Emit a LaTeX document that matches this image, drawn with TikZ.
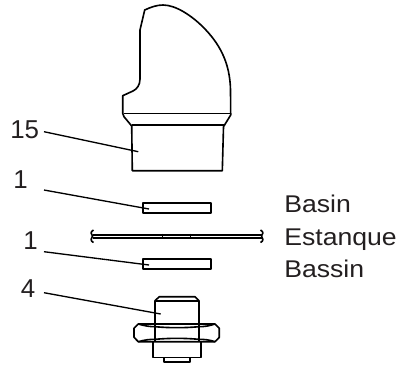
\documentclass[tikz,border=0pt]{standalone}
\usepackage{fontspec}
\setmainfont{Liberation Sans}
\definecolor{labelgrey}{HTML}{231F20}
\tikzset{
    part/.style={line width=1.15pt, line join=round},
    leader/.style={line width=0.95pt},
    partnum/.style={anchor=base west, inner sep=0pt, text=labelgrey, font=\fontsize{18.4pt}{18.4pt}\selectfont},
    basinname/.style={anchor=base west, inner sep=0pt, text=labelgrey, xscale=1.1, transform shape, font=\fontsize{17.2pt}{17.2pt}\selectfont}
}
\begin{document}
\begin{tikzpicture}[x=0.025cm, y=-0.025cm]
    \useasboundingbox (0,0) rectangle (398,364);

    % Drawing handle
    \draw [part] (144.7,10) .. controls (151,7) and (157,5) .. (163,5)
        .. controls (176,5) and (192,16) .. (203,27)
        .. controls (219,43) and (230,62) .. (230.5,90)
        -- (230.7,115) -- (223.5,126.7) -- (222.3,170.7) -- (132.3,170.7) -- (131.7,126)
        -- (124,116.7) -- (122.7,113.3) -- (122.7,95.7) -- (133,91)
        .. controls (137,89) and (140,85) .. (140,79)
        -- (140,30) -- (144.7,10) -- cycle;
    \draw [part] (124,113.3) -- (230.7,113.3);
    \draw [part] (131.7,125) -- (223.5,125);

    % Drawing washer top
    \draw [part] (142.7,202.7) rectangle (211,212.7);

    % Drawing plate
    \draw [part] (92.5,234.7) -- (261.5,234.7);
    \draw [part] (92.5,237.7) -- (261.5,237.7);
    \draw [line width=0.7pt] (162.7,233.7) -- (162.7,238.7);
    \draw [line width=0.7pt] (190.7,233.7) -- (190.7,238.7);
    \draw [part] (93.5,230) .. controls (90,232) and (91,234) .. (92.5,236)
        .. controls (91,238) and (90,241) .. (93.5,242.5);
    \draw [part] (260.5,230) .. controls (264,232) and (263,234) .. (261.5,236)
        .. controls (263,238) and (264,241) .. (260.5,242.5);

    % Drawing washer bottom
    \draw [part] (142.7,259) rectangle (211,269);

    % Drawing bolt
    \draw [part] (155,324) -- (155,300.7) -- (159.3,296.7) -- (195,296.7) -- (199,300.7) -- (199,324);
    \draw [part] (155,300.7) -- (199,300.7);

    % Drawing nut
    \draw [part] (138.3,324) -- (215,324) -- (219.3,328.3) -- (219.3,337.3) -- (215,341.7)
        -- (138.3,341.7) -- (134,337.3) -- (134,328.3) -- cycle;
    \draw [part] (138.3,324) .. controls (145,326) and (150,326.7) .. (155,326.7)
        .. controls (170,328) and (184,328) .. (199,326.7)
        .. controls (204,326.7) and (209,326) .. (215,324);
    \draw [part] (138.3,341.7) .. controls (145,339.7) and (150,339.3) .. (155,339.3)
        .. controls (170,338) and (184,338) .. (199,339.3)
        .. controls (204,339.3) and (209,339.7) .. (215,341.7);
    \draw [part] (155,324) -- (155,341.7);
    \draw [part] (199,324) -- (199,341.7);

    % Drawing bolt end
    \draw [part] (153.3,341.7) -- (153.3,357.3) -- (201,357.3) -- (201,341.7);
    \draw [part] (164,357.3) -- (164,361.7) -- (190,361.7) -- (190,357.3);

    % Marking part numbers
    \node [partnum] (numhandle) at (10,138.3) {15};
    \node [partnum] (numwashertop) at (13,188.3) {1};
    \node [partnum] (numwasherbottom) at (23,249.3) {1};
    \node [partnum] (numbolt) at (20.5,297.3) {4};

    % Marking basin names
    \node [basinname] (namebasin) at (284,212.7) {Basin};
    \node [basinname] (nameestanque) at (284,245) {Estanque};
    \node [basinname] (namebassin) at (284,277.3) {Bassin};

    % Drawing leaders
    \coordinate (fromhandle) at (44,131.7);
    \coordinate (tohandle) at (138.3,151.7);
    \coordinate (fromwashertop) at (44,190);
    \coordinate (towashertop) at (149,209);
    \coordinate (fromwasherbottom) at (44,251.7);
    \coordinate (towasherbottom) at (149,265);
    \coordinate (frombolt) at (44,292.7);
    \coordinate (tobolt) at (160.7,314);
    \draw [leader] (fromhandle) -- (tohandle);
    \draw [leader] (fromwashertop) -- (towashertop);
    \draw [leader] (fromwasherbottom) -- (towasherbottom);
    \draw [leader] (frombolt) -- (tobolt);
\end{tikzpicture}
\end{document}
